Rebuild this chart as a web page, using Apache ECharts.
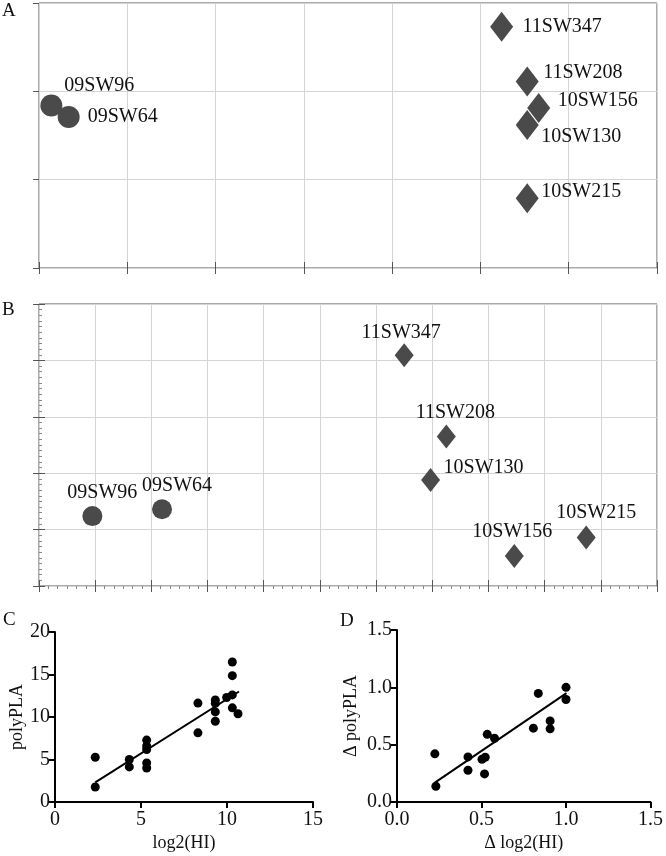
<!DOCTYPE html>
<html>
<head>
<meta charset="utf-8">
<script src="https://cdn.jsdelivr.net/npm/echarts@6/dist/echarts.min.js"></script>
<style>
html,body{margin:0;padding:0;background:#fff;}
#chart{width:666px;height:856px;}
</style>
</head>
<body>
<div id="chart"></div>
<script>
// ---- Data ----
const strainNames = ['09SW96','09SW64','11SW347','11SW208','10SW156','10SW130','10SW215'];
const strainShape = ['circle','circle','diamond','diamond','diamond','diamond','diamond'];
// Panel A coordinates (antigenic map units)
const xA = [0.14, 0.336, 5.24, 5.53, 5.66, 5.53, 5.53];
const yA = [1.84, 1.71, 2.73, 2.11, 1.81, 1.62, 0.79];
// Panel B coordinates
const xB = [0.95, 2.19, 6.50, 7.25, 8.46, 6.97, 9.74];
const yB = [1.24, 1.36, 4.09, 2.65, 0.53, 1.88, 0.86];
// Panel C: log2(HI) vs polyPLA
const cX = [2.34,2.34,4.32,4.32,5.33,5.33,5.33,5.33,5.33,8.31,8.31,9.32,9.32,9.32,9.32,9.98,10.31,10.31,10.31,10.31,10.64];
const cY = [5.27,1.77,5.0,4.13,7.28,6.6,6.18,4.6,4.0,11.64,8.14,12.0,11.6,10.6,9.5,12.3,16.47,14.86,12.6,11.08,10.38];
const fitCX = [2.34, 10.7];
const fitCY = [2.32, 13.0];
// Panel D: delta log2(HI) vs delta polyPLA
const dX = [0.224,0.23,0.42,0.42,0.503,0.522,0.518,0.534,0.577,0.807,0.836,0.906,0.906,1.0,1.0];
const dY = [0.42,0.137,0.393,0.277,0.373,0.39,0.245,0.59,0.556,0.644,0.947,0.707,0.638,1.0,0.894];
const fitDX = [0.224, 1.003];
const fitDY = [0.169, 0.949];
// Tick settings
const ticksC = {xMax: 15, xStep: 5, yMax: 20, yStep: 5};
const ticksD = {xMax: 1.5, xStep: 0.5, yMax: 1.5, yStep: 0.5};

// ---- Layout / styles (not data) ----
const FONT = 'Liberation Serif';
const markColor = '#4a4a4a';
const labelLayoutA = [[13,-20,'left'],[19,0,'left'],[21,0,'left'],[16,-9,'left'],[19,-7,'left'],[14,12,'left'],[14,-6,'left']];
const labelLayoutB = [[10,-23,'center'],[15,-24,'center'],[-3,-23,'center'],[9,-24,'center'],[-2,-24,'center'],[13,-12,'left'],[10,-25,'center']];
const symSizeA = {circle:[22,22], diamond:[23,30]};
const symSizeB = {circle:[20,20], diamond:[19,24]};

function strainData(xs, ys, layout, sizes){
  return strainNames.map((n,i)=>({
    name:n,
    value:[xs[i], ys[i]],
    symbol: strainShape[i],
    symbolSize: sizes[strainShape[i]],
    label:{
      show:true, formatter:n, position:'inside',
      align: layout[i][2], verticalAlign:'middle',
      offset:[layout[i][0], layout[i][1]],
      fontFamily:FONT, fontSize:20, color:'#111'
    }
  }));
}

const gridLine = {show:true, lineStyle:{color:'#d4d4d4', width:1}};
function boxAxes(gi, xmax, ymax, minor){
  const xs = [
    {gridIndex:gi, type:'value', min:0, max:xmax, interval:1, position:'bottom',
     axisLine:{show:false}, axisLabel:{show:false},
     axisTick:{show:true, inside:true, length:6, lineStyle:{color:'#555'}},
     splitLine:gridLine},
    {gridIndex:gi, type:'value', min:0, max:xmax, interval:1, position:'top',
     axisLine:{show:false}, axisLabel:{show:false},
     axisTick:{show:true, inside:true, length:6, lineStyle:{color:'#555'}},
     minorTick: minor ? {show:true, splitNumber:6, length:3, lineStyle:{color:'#888'}} : {show:false},
     splitLine:{show:false}}
  ];
  const ys = [
    {gridIndex:gi, type:'value', min:0, max:ymax, interval:1, position:'left',
     axisLine:{show:false}, axisLabel:{show:false},
     axisTick:{show:true, inside:!!minor, length:minor?6:4, lineStyle:{color:minor?'#555':'#aaa'}},
     minorTick: minor ? {show:true, splitNumber:10, length:3, lineStyle:{color:'#888'}} : {show:false},
     splitLine:gridLine},
    {gridIndex:gi, type:'value', min:0, max:ymax, interval:1, position:'right',
     axisLine:{show:false}, axisLabel:{show:false},
     axisTick:{show:true, inside:true, length:6, lineStyle:{color:'#555'}},
     splitLine:{show:false}}
  ];
  return {xs, ys};
}

function plotAxes(gi, t, fmt, xName, yName, yGap){
  const lab = {fontFamily:FONT, fontSize:20, color:'#111'};
  return {
    x:{gridIndex:gi, type:'value', min:0, max:t.xMax, interval:t.xStep,
       axisLine:{show:true, lineStyle:{color:'#000', width:2}},
       axisTick:{show:true, inside:false, length:6, lineStyle:{color:'#000', width:2}},
       axisLabel:Object.assign({margin:8, formatter:fmt}, lab),
       splitLine:{show:false},
       name:xName, nameLocation:'middle', nameGap:32,
       nameTextStyle:{fontFamily:FONT, fontSize:18, color:'#111'}},
    y:{gridIndex:gi, type:'value', min:0, max:t.yMax, interval:t.yStep,
       axisLine:{show:true, lineStyle:{color:'#000', width:2}},
       axisTick:{show:true, inside:false, length:6, lineStyle:{color:'#000', width:2}},
       axisLabel:Object.assign({margin:5, formatter:fmt}, lab),
       splitLine:{show:false},
       name:yName, nameLocation:'middle', nameGap:yGap, nameRotate:90,
       nameTextStyle:{fontFamily:FONT, fontSize:18, color:'#111'}}
  };
}

const A = boxAxes(0, 7, 3, false);
const B = boxAxes(1, 11, 5, true);
const C = plotAxes(2, ticksC, v=>String(v), 'log2(HI)', 'polyPLA', 26);
const D = plotAxes(3, ticksD, v=>v.toFixed(1), 'Δ log2(HI)', 'Δ polyPLA', 37);

const option = {
  animation:false,
  backgroundColor:'#fff',
  grid:[
    {left:39, top:3, width:618, height:265, show:true, borderColor:'#555', borderWidth:1, backgroundColor:'transparent'},
    {left:39, top:304, width:618, height:282, show:true, borderColor:'#555', borderWidth:1, backgroundColor:'transparent'},
    {left:55, top:632, width:258, height:170},
    {left:397, top:630, width:258, height:172}
  ],
  xAxis:[A.xs[0], A.xs[1], B.xs[0], B.xs[1], C.x, D.x],
  yAxis:[A.ys[0], A.ys[1], B.ys[0], B.ys[1], C.y, D.y],
  graphic:[
    {type:'text', left:2, top:2, style:{text:'A', font:'19px "Liberation Serif"', fill:'#111'}},
    {type:'text', left:2, top:301, style:{text:'B', font:'19px "Liberation Serif"', fill:'#111'}},
    {type:'text', left:3, top:611, style:{text:'C', font:'19px "Liberation Serif"', fill:'#111'}},
    {type:'text', left:340, top:612, style:{text:'D', font:'19px "Liberation Serif"', fill:'#111'}}
  ],
  series:[
    {type:'scatter', xAxisIndex:0, yAxisIndex:0, itemStyle:{color:markColor, opacity:1}, data:strainData(xA, yA, labelLayoutA, symSizeA), z:5},
    {type:'scatter', xAxisIndex:2, yAxisIndex:2, itemStyle:{color:markColor, opacity:1}, data:strainData(xB, yB, labelLayoutB, symSizeB), z:5},
    {type:'scatter', xAxisIndex:4, yAxisIndex:4, symbol:'circle', symbolSize:9, itemStyle:{color:'#000', opacity:1},
     data:cX.map((x,i)=>[x, cY[i]])},
    {type:'line', xAxisIndex:4, yAxisIndex:4, symbol:'none', lineStyle:{color:'#000', width:2},
     data:fitCX.map((x,i)=>[x, fitCY[i]])},
    {type:'scatter', xAxisIndex:5, yAxisIndex:5, symbol:'circle', symbolSize:9, itemStyle:{color:'#000', opacity:1},
     data:dX.map((x,i)=>[x, dY[i]])},
    {type:'line', xAxisIndex:5, yAxisIndex:5, symbol:'none', lineStyle:{color:'#000', width:2},
     data:fitDX.map((x,i)=>[x, fitDY[i]])}
  ]
};
const chart = echarts.init(document.getElementById('chart'), null, {renderer:'canvas'});
chart.setOption(option);
</script>
</body>
</html>
